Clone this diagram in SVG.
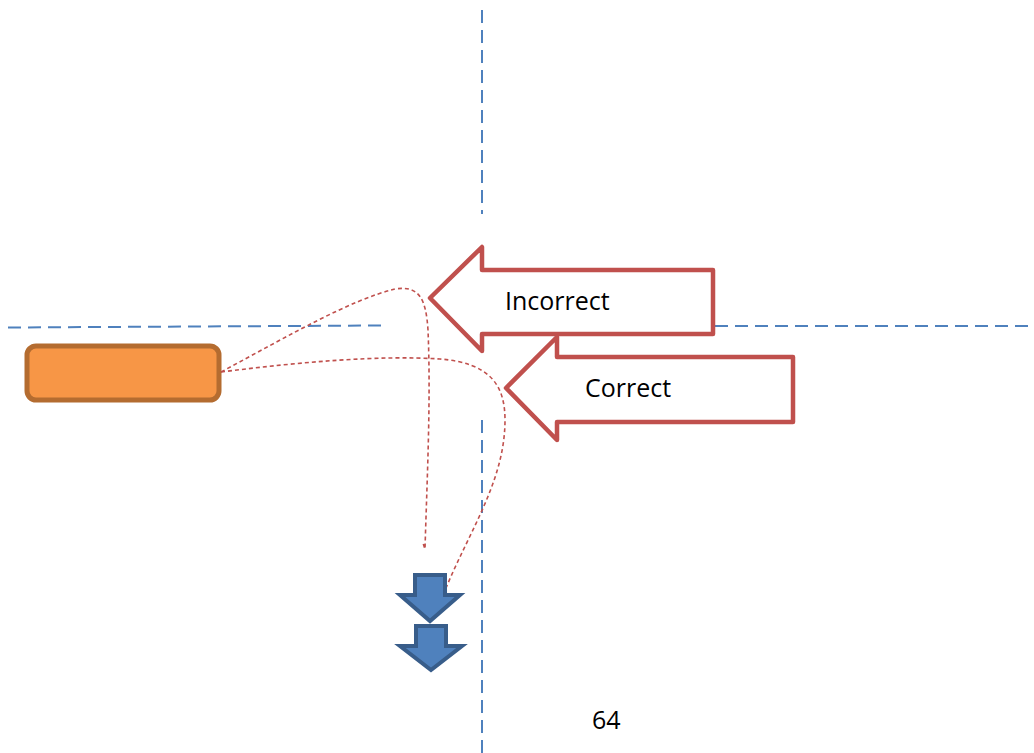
<svg xmlns="http://www.w3.org/2000/svg" width="1034" height="753" viewBox="0 0 1034 753">
  <style>
    .guide { stroke: #4F81BD; stroke-width: 2; stroke-dasharray: 13 7; fill: none; }
    .link { stroke: #C0504D; stroke-width: 1.6; stroke-dasharray: 4 3; fill: none; }
    .redarrow { fill: #FFFFFF; stroke: #C0504D; stroke-width: 4.5; stroke-linejoin: round; }
    .bluearrow { fill: #4F81BD; stroke: #385D8A; stroke-width: 4; stroke-linejoin: miter; }
    .label { font-family: "Open Sans", "Liberation Sans", sans-serif; font-size: 25px; fill: #000000; }
  </style>
  <rect x="0" y="0" width="1034" height="753" fill="#FFFFFF"/>

  <g id="guides">
    <line class="guide" x1="482" y1="10" x2="482" y2="214"/>
    <line class="guide" x1="482" y1="420" x2="482" y2="753"/>
    <line class="guide" x1="8" y1="327.5" x2="383" y2="325.5"/>
    <line class="guide" x1="715" y1="326" x2="1034" y2="326"/>
  </g>

  <g id="source">
    <rect x="27" y="346" width="192" height="54" rx="9" ry="9" fill="#F79646" stroke="#B46C30" stroke-width="5"/>
  </g>

  <g id="connectors">
    <path class="link" d="M221,372 C 290,335 350,300 395,289 C 420,285 426,300 428,330 C 431,400 427,480 425,549 L 423,543"/>
    <path class="link" d="M221,372 C 300,362 380,355 440,359 C 490,363 505,385 505,420 C 505,480 470,530 446,588"/>
  </g>

  <g id="incorrect">
    <polygon class="redarrow" points="430,298 482,247 482,270 713,270 713,334 482,334 482,351"/>
    <text class="label" x="505" y="310">Incorrect</text>
  </g>

  <g id="correct">
    <polygon class="redarrow" points="506,388 557,337 557,357 793,357 793,422 557,422 557,440"/>
    <text class="label" x="585" y="397">Correct</text>
  </g>

  <g id="down-arrow-1">
    <polygon class="bluearrow" points="415,575 445,575 445,595 460,595 430,621 400,595 415,595"/>
  </g>
  <g id="down-arrow-2">
    <polygon class="bluearrow" points="416,626 446,626 446,646 462,646 431,670 400,646 416,646"/>
  </g>

  <g id="page-number">
    <text class="label" x="592" y="729">64</text>
  </g>
</svg>
